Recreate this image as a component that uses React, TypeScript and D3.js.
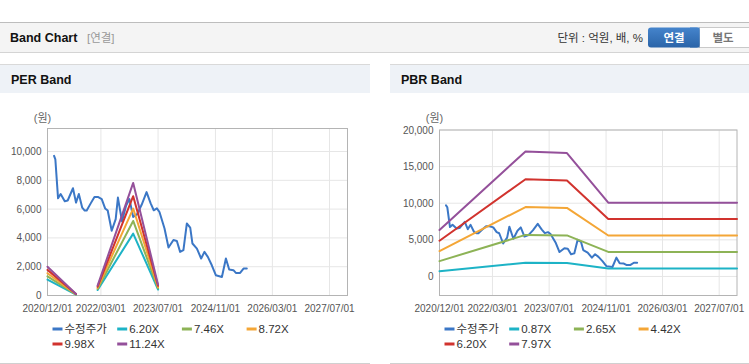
import * as d3 from 'd3'

const FONT = '"Liberation Sans", "Noto Sans CJK KR", sans-serif'

const xTickLabels = ['2020/12/01', '2022/03/01', '2023/07/01', '2024/11/01', '2026/03/01', '2027/07/01']
const xDomain = ['2020/12/01', '2027/12/01']

const seriesColors = ['#3b77c6', '#1db3c6', '#8db356', '#f4a636', '#d1332e', '#94509a']

// adjusted close (수정주가)
const priceDates = [
  '2021/01/26', '2021/02/06', '2021/03/01', '2021/03/23', '2021/04/27', '2021/05/22',
  '2021/07/06', '2021/08/01', '2021/08/25', '2021/09/23', '2021/10/14', '2021/10/31',
  '2021/12/04', '2022/01/05', '2022/02/03', '2022/03/08', '2022/04/06', '2022/04/28',
  '2022/06/01', '2022/07/05', '2022/07/24', '2022/08/12', '2022/08/28', '2022/10/02',
  '2022/10/30', '2022/12/01', '2023/01/04', '2023/02/11', '2023/03/25', '2023/04/29',
  '2023/05/25', '2023/06/21', '2023/07/13', '2023/08/25', '2023/09/28', '2023/11/09',
  '2023/12/08', '2024/01/05', '2024/02/02', '2024/03/02', '2024/03/31', '2024/04/19',
  '2024/05/27', '2024/07/02', '2024/07/30', '2024/08/28', '2024/10/01', '2024/11/04',
  '2024/12/26', '2025/01/29', '2025/02/26', '2025/04/03', '2025/04/24', '2025/05/30',
  '2025/06/28', '2025/07/26',
]
const priceValues = [
  9700, 9450, 6750, 7050, 6550, 6600,
  7450, 6450, 7050, 6100, 5900, 5900,
  6400, 6850, 6850, 6700, 6050, 5900,
  4500, 5300, 6800, 5900, 5150, 6250,
  6700, 5450, 5650, 6300, 7180, 6400,
  5920, 6050, 5800, 4650, 3330, 3850,
  3790, 3030, 3150, 5000, 4720, 3610,
  3260, 2570, 3030, 2680, 2100, 1410,
  1290, 2570, 1800, 1760, 1570, 1570,
  1870, 1870,
]

// PER band
const perLegend = ['수정주가', '6.20X', '7.46X', '8.72X', '9.98X', '11.24X']
const perYTicks = [0, 2000, 4000, 6000, 8000, 10000]
const perDates = ['2020/12/01', '2021/08/01', '2021/12/01', '2022/02/01', '2022/12/01', '2023/07/01']
const per620 = [1100, 60, null, 380, 4300, 415]
const per746 = [1330, 75, null, 455, 5180, 500]
const per872 = [1550, 85, null, 530, 6040, 585]
const per998 = [1780, 100, null, 610, 6900, 670]
const per1124 = [2000, 110, null, 690, 7820, 750]

// PBR band
const pbrLegend = ['수정주가', '0.87X', '2.65X', '4.42X', '6.20X', '7.97X']
const pbrYTicks = [0, 5000, 10000, 15000, 20000]
const pbrDates = ['2020/12/01', '2022/12/10', '2023/12/01', '2024/11/20', '2027/12/01']
const pbr087 = [726, 1863, 1839, 1100, 1100]
const pbr265 = [2096, 5676, 5602, 3352, 3352]
const pbr442 = [3466, 9480, 9360, 5590, 5590]
const pbr620 = [4877, 13280, 13107, 7842, 7842]
const pbr797 = [6342, 17070, 16850, 10080, 10080]

const parse = d3.timeParse('%Y/%m/%d')

type Pt = { date: Date; value: number | null }
const zip = (dates: string[], values: (number | null)[]): Pt[] =>
  dates.map((d, i) => ({ date: parse(d) as Date, value: values[i] }))

function BandPanel({ x0, width, title, plot, yDomain, yTicks, series, legend }) {
  const x = d3.scaleTime().domain(xDomain.map((d) => parse(d) as Date)).range([plot.l, plot.r])
  const y = d3.scaleLinear().domain(yDomain).range([plot.b, plot.t])
  const line = d3
    .line<Pt>()
    .defined((p) => p.value != null)
    .x((p) => x(p.date))
    .y((p) => y(p.value as number))

  return (
    <g fontFamily={FONT}>
      <line x1={x0} x2={x0 + width} y1={64.5} y2={64.5} stroke="#d9d9d9" />
      <rect x={x0} y={65} width={width} height={28} fill="#eef2f7" />
      <text x={x0 + 11} y={84} fontSize={12.5} fontWeight="bold" fill="#111">
        {title}
      </text>
      <line x1={x0} x2={x0 + width} y1={363.5} y2={363.5} stroke="#d0d0d0" />

      <text x={plot.l - 5} y={118} fontSize={11} fill="#666" textAnchor="middle" dominantBaseline="central">
        (원)
      </text>

      {yTicks.map((t) => (
        <g key={t}>
          <line x1={plot.l} x2={plot.r} y1={y(t)} y2={y(t)} stroke="#e6e6e6" />
          <text x={plot.l - 6} y={y(t)} fontSize={10} fill="#555" textAnchor="end" dominantBaseline="central">
            {d3.format(',')(t)}
          </text>
        </g>
      ))}
      {xTickLabels.map((t) => {
        const px = x(parse(t) as Date)
        return (
          <g key={t}>
            <line x1={px} x2={px} y1={plot.t} y2={plot.b} stroke="#e6e6e6" />
            <text x={px} y={plot.b + 16} fontSize={10} fill="#555" textAnchor="middle">
              {t}
            </text>
          </g>
        )
      })}
      <rect
        x={plot.l}
        y={plot.t}
        width={plot.r - plot.l}
        height={plot.b - plot.t}
        fill="none"
        stroke="#b4b4b4"
      />

      {series.map((s, i) => (
        <path
          key={i}
          d={line(s) || ''}
          fill="none"
          stroke={seriesColors[i]}
          strokeWidth={2}
          strokeLinejoin="round"
          strokeLinecap="round"
        />
      ))}

      {legend.map((name, i) => {
        const lx = plot.l + 5 + (i % 4) * 64.7
        const ly = 329 + Math.floor(i / 4) * 15
        return (
          <g key={name}>
            <line x1={lx} x2={lx + 10} y1={ly} y2={ly} stroke={seriesColors[i]} strokeWidth={3} />
            <text x={lx + 12} y={ly} fontSize={11.5} fill="#333" dominantBaseline="central">
              {name}
            </text>
          </g>
        )
      })}
    </g>
  )
}

export default function App() {
  const price = zip(priceDates, priceValues)
  const perSeries = [price, ...[per620, per746, per872, per998, per1124].map((v) => zip(perDates, v))]
  const pbrSeries = [price, ...[pbr087, pbr265, pbr442, pbr620, pbr797].map((v) => zip(pbrDates, v))]

  return (
    <svg
      width={749}
      height={364}
      style={{ position: 'absolute', left: 0, top: 0, background: '#fff' }}
      fontFamily={FONT}
    >
      <defs>
        <linearGradient id="btn" x1="0" x2="0" y1="0" y2="1">
          <stop offset="0" stopColor="#4584cc" />
          <stop offset="1" stopColor="#2a64a8" />
        </linearGradient>
      </defs>

      {/* top header */}
      <rect x={0} y={22} width={749} height={30} fill="#f4f4f4" />
      <line x1={0} x2={749} y1={22.5} y2={22.5} stroke="#bdbdbd" />
      <line x1={0} x2={749} y1={52.5} y2={52.5} stroke="#d4d4d4" />
      <text x={10} y={42} fontSize={12.5} fontWeight="bold" fill="#111">
        Band Chart
      </text>
      <text x={87} y={42} fontSize={11.5} fill="#999">
        [연결]
      </text>
      <text x={643} y={41.5} fontSize={11.5} fill="#333" textAnchor="end">
        단위 : 억원, 배, %
      </text>
      <rect x={699.5} y={27.5} width={55} height={20} fill="#fff" stroke="#c9c9c9" />
      <rect x={648} y={27.5} width={51.5} height={20} rx={3} fill="url(#btn)" />
      <rect x={690} y={27.5} width={9.5} height={20} fill="url(#btn)" />
      <text x={674} y={41.5} fontSize={11.5} fontWeight="bold" fill="#fff" textAnchor="middle">
        연결
      </text>
      <text x={723} y={41.5} fontSize={11.5} fontWeight="bold" fill="#777" textAnchor="middle">
        별도
      </text>

      <BandPanel
        x0={0}
        width={370}
        title="PER Band"
        plot={{ l: 47.5, t: 128.5, r: 347.5, b: 295.5 }}
        yDomain={[0, 11600]}
        yTicks={perYTicks}
        series={perSeries}
        legend={perLegend}
      />
      <BandPanel
        x0={390}
        width={359}
        title="PBR Band"
        plot={{ l: 439.5, t: 130, r: 737, b: 295.5 }}
        yDomain={[-2600, 20000]}
        yTicks={pbrYTicks}
        series={pbrSeries}
        legend={pbrLegend}
      />
    </svg>
  )
}
